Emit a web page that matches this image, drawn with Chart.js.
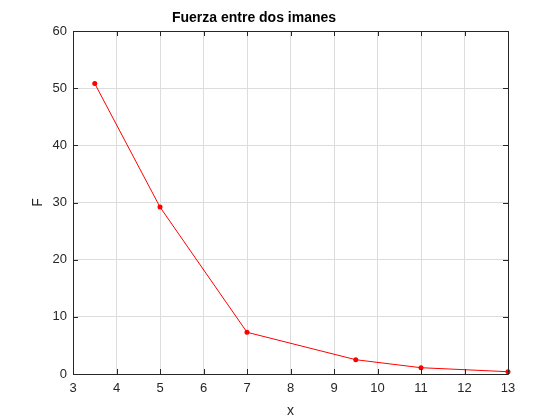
<!DOCTYPE html>
<html>
<head>
<meta charset="utf-8">
<script src="https://cdn.jsdelivr.net/npm/chart.js@4/dist/chart.umd.min.js"></script>
<style>
  html, body { margin: 0; padding: 0; background: #ffffff; }
  #wrap { width: 560px; height: 420px; }
</style>
</head>
<body>
<div id="wrap"><canvas id="c" width="560" height="420"></canvas></div>
<script>
const xValues = [3.5, 5, 7, 9.5, 11, 13];
const fValues = [50.8, 29.2, 7.3, 2.5, 1.1, 0.4];
const xTicks = [3, 4, 5, 6, 7, 8, 9, 10, 11, 12, 13];
const yTicks = [0, 10, 20, 30, 40, 50, 60];
const chartTitle = 'Fuerza entre dos imanes';
const xLabel = 'x';
const yLabel = 'F';

const boxPlugin = {
  id: 'boxPlugin',
  afterDraw(chart) {
    const { ctx, chartArea: a, scales } = chart;
    ctx.save();
    ctx.strokeStyle = '#262626';
    ctx.lineWidth = 1;
    ctx.beginPath();
    ctx.rect(Math.round(a.left) + 0.5, Math.round(a.top) + 0.5,
             Math.round(a.right - a.left), Math.round(a.bottom - a.top));
    ctx.stroke();
    const t = 5;
    ctx.beginPath();
    xTicks.forEach(v => {
      const px = Math.round(scales.x.getPixelForValue(v)) + 0.5;
      ctx.moveTo(px, a.bottom); ctx.lineTo(px, a.bottom - t);
      ctx.moveTo(px, a.top); ctx.lineTo(px, a.top + t);
    });
    yTicks.forEach(v => {
      const py = Math.round(scales.y.getPixelForValue(v)) + 0.5;
      ctx.moveTo(a.left, py); ctx.lineTo(a.left + t, py);
      ctx.moveTo(a.right, py); ctx.lineTo(a.right - t, py);
    });
    ctx.stroke();
    ctx.restore();
  }
};

const tickFont = { family: 'Arial, "Liberation Sans", Helvetica, sans-serif', size: 13 };

new Chart(document.getElementById('c'), {
  type: 'line',
  data: {
    datasets: [{
      data: xValues.map((x, i) => ({ x: x, y: fValues[i] })),
      borderColor: '#ff0000',
      backgroundColor: '#ff0000',
      borderWidth: 1,
      pointRadius: 2.5,
      pointHoverRadius: 2.5,
      pointBorderWidth: 0,
      tension: 0,
      clip: false
    }]
  },
  options: {
    responsive: false,
    animation: false,
    devicePixelRatio: 1,
    layout: { padding: { left: 0, right: 52, top: 0, bottom: 0 } },
    plugins: {
      legend: { display: false },
      tooltip: { enabled: false },
      title: {
        display: true,
        text: chartTitle,
        color: '#000000',
        font: { family: 'Arial, "Liberation Sans", Helvetica, sans-serif', size: 14, weight: 'bold', lineHeight: 1.2 },
        padding: { top: 10, bottom: 4.2 }
      }
    },
    scales: {
      x: {
        type: 'linear',
        min: 3, max: 13,
        afterBuildTicks(scale) { scale.ticks = xTicks.map(v => ({ value: v })); },
        afterFit(scale) { scale.height = 46; },
        grid: { color: '#dcdcdc', drawTicks: false, lineWidth: 1 },
        border: { display: false },
        ticks: { color: '#262626', font: tickFont, padding: 7, maxRotation: 0 },
        title: { display: true, text: xLabel, color: '#262626', font: { family: tickFont.family, size: 14 }, padding: { top: 3, bottom: 0 } }
      },
      y: {
        type: 'linear',
        min: 0, max: 60,
        afterBuildTicks(scale) { scale.ticks = yTicks.map(v => ({ value: v })); },
        afterFit(scale) { scale.width = 73; },
        grid: { color: '#dcdcdc', drawTicks: false, lineWidth: 1 },
        border: { display: false },
        ticks: { color: '#262626', font: tickFont, padding: 6 },
        title: { display: true, text: yLabel, color: '#262626', font: { family: tickFont.family, size: 14 }, padding: { top: 30, bottom: 0 } }
      }
    }
  },
  plugins: [boxPlugin]
});
</script>
</body>
</html>
